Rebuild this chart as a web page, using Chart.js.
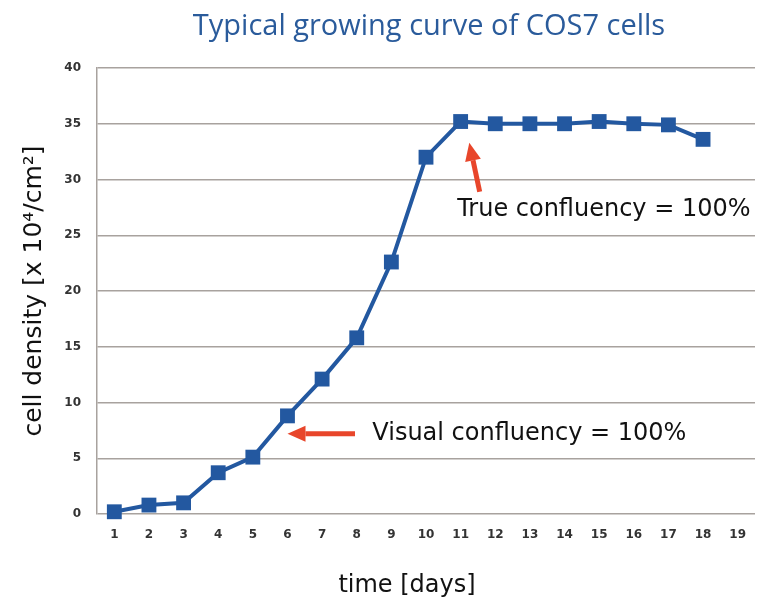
<!DOCTYPE html>
<html>
<head>
<meta charset="utf-8">
<script src="https://cdn.jsdelivr.net/npm/chart.js@4/dist/chart.umd.min.js"></script>
<style>
  html, body { margin: 0; padding: 0; background: #fff; }
  #wrap { width: 760px; height: 601px; position: relative; }
</style>
</head>
<body>
<div id="wrap"><canvas id="growthChart"></canvas></div>
<script>
// jours de culture et densité cellulaire
const days = ['1','2','3','4','5','6','7','8','9','10','11','12','13','14','15','16','17','18','19'];
const density = [0.2, 0.8, 1.0, 3.7, 5.1, 8.8, 12.1, 15.8, 22.6, 32.0, 35.2, 35.0, 35.0, 35.0, 35.2, 35.0, 34.9, 33.6, null];

const chartTitle = 'Typical growing curve of COS7 cells';
const xTitle = 'time [days]';
const yTitle = 'cell density [x 10⁴/cm²]';

// annotations (coordonnées dans l'espace des données : jour, densité)
const notes = [
  { text: 'Visual confluency = 100%', from: [7.95, 7.2], to: [6.0, 7.2], label: [8.45, 7.2] },
  { text: 'True confluency = 100%', from: [11.55, 28.9], to: [11.25, 33.3], label: [10.9, 27.3] }
];

const tickFont = { family: '"DejaVu Sans", Verdana, sans-serif', size: 12, weight: 'bold' };

const decorPlugin = {
  id: 'decor',
  afterDatasetsDraw(chart) {
    const { ctx, chartArea, scales: { x, y } } = chart;
    const px = v => x.getPixelForValue(v - 1);
    ctx.save();
    notes.forEach(n => {
      const x1 = px(n.from[0]), y1 = y.getPixelForValue(n.from[1]);
      const x2 = px(n.to[0]), y2 = y.getPixelForValue(n.to[1]);
      const ang = Math.atan2(y2 - y1, x2 - x1);
      const head = 18;
      const bx = x2 - Math.cos(ang) * head, by = y2 - Math.sin(ang) * head;
      ctx.strokeStyle = '#e8462b';
      ctx.fillStyle = '#e8462b';
      ctx.lineWidth = 5;
      ctx.beginPath();
      ctx.moveTo(x1, y1);
      ctx.lineTo(bx, by);
      ctx.stroke();
      ctx.beginPath();
      ctx.moveTo(x2, y2);
      ctx.lineTo(bx + Math.cos(ang + Math.PI / 2) * 8, by + Math.sin(ang + Math.PI / 2) * 8);
      ctx.lineTo(bx + Math.cos(ang - Math.PI / 2) * 8, by + Math.sin(ang - Math.PI / 2) * 8);
      ctx.closePath();
      ctx.fill();

      ctx.fillStyle = '#111';
      ctx.font = '24px "DejaVu Sans", Verdana, sans-serif';
      ctx.textAlign = 'left';
      ctx.textBaseline = 'middle';
      ctx.fillText(n.text, px(n.label[0]), y.getPixelForValue(n.label[1]));
    });

    // titre du graphique et titre de l'axe x
    const midX = (chartArea.left + chartArea.right) / 2;
    ctx.textAlign = 'center';
    ctx.textBaseline = 'middle';
    ctx.fillStyle = '#2a5b9b';
    ctx.font = '29px "Open Sans", sans-serif';
    ctx.fillText(chartTitle, midX + 3, 27);
    ctx.fillStyle = '#111';
    ctx.font = '24px "DejaVu Sans", sans-serif';
    ctx.fillText(xTitle, midX - 19, chart.height - 15);
    ctx.restore();
  }
};

document.addEventListener('DOMContentLoaded', () => {
  const ctx = document.getElementById('growthChart');
  new Chart(ctx, {
    type: 'line',
    data: {
      labels: days,
      datasets: [{
        data: density,
        borderColor: '#2358a0',
        backgroundColor: '#2358a0',
        borderWidth: 4,
        pointStyle: 'rect',
        pointRadius: 10.5,
        pointBorderWidth: 0,
        tension: 0,
        clip: 12
      }]
    },
    options: {
      responsive: true,
      maintainAspectRatio: false,
      animation: false,
      layout: { autoPadding: false, padding: { left: 0, right: 5, top: 68, bottom: 0 } },
      plugins: {
        legend: { display: false },
        tooltip: { enabled: false },
        title: { display: false }
      },
      scales: {
        x: {
          offset: true,
          grid: { display: false, drawTicks: false },
          border: { display: false },
          ticks: { color: '#333', font: tickFont, padding: 14, maxRotation: 0 },
          afterFit: s => { s.height = 87; s.paddingLeft = 0; s.paddingRight = 0; }
        },
        y: {
          min: 0,
          max: 40,
          ticks: { stepSize: 5, color: '#333', font: tickFont, padding: 16 },
          grid: { color: '#a8a29e', lineWidth: 1.5, drawTicks: false },
          border: { display: true, color: '#a8a29e', width: 1.5 },
          title: {
            display: true,
            text: yTitle,
            color: '#111',
            font: { family: '"DejaVu Sans", sans-serif', size: 25 },
            padding: { top: 19, bottom: 0 }
          },
          afterFit: s => { s.width = 97; }
        }
      }
    },
    plugins: [decorPlugin]
  });
});
</script>
</body>
</html>
